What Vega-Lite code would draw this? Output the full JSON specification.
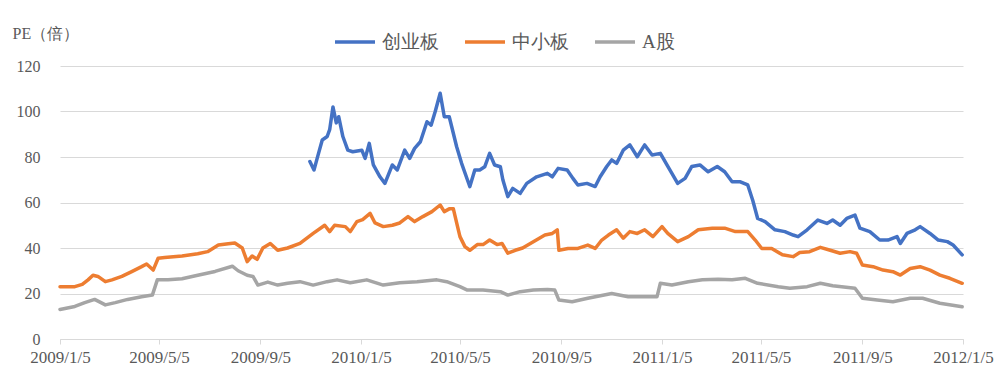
{
  "$schema": "https://vega.github.io/schema/vega-lite/v6.json",
  "width": 903,
  "height": 273,
  "autosize": {"type": "none"},
  "padding": {"left": 60, "top": 66, "right": 37, "bottom": 42},
  "background": "white",
  "config": {
    "view": {"stroke": null},
    "axis": {"labelFont": "Times New Roman", "titleFont": "Times New Roman"},
    "legend": {"labelFont": "Times New Roman"}
  },
  "data": {"values": [
    {"d":"2009-01-05","s":"中小板","v":23},{"d":"2009-01-23","s":"中小板","v":23},{"d":"2009-02-01","s":"中小板","v":24},{"d":"2009-02-08","s":"中小板","v":26},{"d":"2009-02-14","s":"中小板","v":28},{"d":"2009-02-20","s":"中小板","v":27.5},{"d":"2009-03-01","s":"中小板","v":25.2},{"d":"2009-03-09","s":"中小板","v":26},{"d":"2009-03-21","s":"中小板","v":27.5},{"d":"2009-04-02","s":"中小板","v":29.6},{"d":"2009-04-14","s":"中小板","v":31.8},{"d":"2009-04-20","s":"中小板","v":33},{"d":"2009-04-28","s":"中小板","v":30.3},{"d":"2009-05-04","s":"中小板","v":35.5},{"d":"2009-05-12","s":"中小板","v":35.8},{"d":"2009-06-02","s":"中小板","v":36.5},{"d":"2009-06-21","s":"中小板","v":37.5},{"d":"2009-07-03","s":"中小板","v":38.4},{"d":"2009-07-16","s":"中小板","v":41.3},{"d":"2009-07-28","s":"中小板","v":41.9},{"d":"2009-08-05","s":"中小板","v":42.2},{"d":"2009-08-14","s":"中小板","v":40},{"d":"2009-08-20","s":"中小板","v":34},{"d":"2009-08-26","s":"中小板","v":36.5},{"d":"2009-09-01","s":"中小板","v":35},{"d":"2009-09-08","s":"中小板","v":40},{"d":"2009-09-17","s":"中小板","v":42},{"d":"2009-09-26","s":"中小板","v":39},{"d":"2009-10-08","s":"中小板","v":40},{"d":"2009-10-23","s":"中小板","v":42},{"d":"2009-11-08","s":"中小板","v":46.4},{"d":"2009-11-22","s":"中小板","v":50},{"d":"2009-11-28","s":"中小板","v":47.2},{"d":"2009-12-04","s":"中小板","v":50},{"d":"2009-12-17","s":"中小板","v":49.4},{"d":"2009-12-23","s":"中小板","v":47.2},{"d":"2009-12-31","s":"中小板","v":51.6},{"d":"2010-01-07","s":"中小板","v":52.5},{"d":"2010-01-16","s":"中小板","v":55.2},{"d":"2010-01-22","s":"中小板","v":51},{"d":"2010-02-01","s":"中小板","v":49.4},{"d":"2010-02-12","s":"中小板","v":50},{"d":"2010-02-21","s":"中小板","v":51},{"d":"2010-03-03","s":"中小板","v":53.8},{"d":"2010-03-11","s":"中小板","v":51.6},{"d":"2010-03-21","s":"中小板","v":53.8},{"d":"2010-04-01","s":"中小板","v":56},{"d":"2010-04-11","s":"中小板","v":58.9},{"d":"2010-04-16","s":"中小板","v":56},{"d":"2010-04-22","s":"中小板","v":57.2},{"d":"2010-04-27","s":"中小板","v":57.2},{"d":"2010-05-01","s":"中小板","v":51},{"d":"2010-05-05","s":"中小板","v":45},{"d":"2010-05-11","s":"中小板","v":40.6},{"d":"2010-05-17","s":"中小板","v":39},{"d":"2010-05-26","s":"中小板","v":41.5},{"d":"2010-06-02","s":"中小板","v":41.5},{"d":"2010-06-10","s":"中小板","v":43.5},{"d":"2010-06-19","s":"中小板","v":41.5},{"d":"2010-06-25","s":"中小板","v":42},{"d":"2010-07-02","s":"中小板","v":37.7},{"d":"2010-07-11","s":"中小板","v":39},{"d":"2010-07-20","s":"中小板","v":40},{"d":"2010-08-02","s":"中小板","v":42.8},{"d":"2010-08-16","s":"中小板","v":45.7},{"d":"2010-08-25","s":"中小板","v":46.4},{"d":"2010-08-31","s":"中小板","v":48},{"d":"2010-09-02","s":"中小板","v":39},{"d":"2010-09-13","s":"中小板","v":39.8},{"d":"2010-09-25","s":"中小板","v":39.8},{"d":"2010-10-07","s":"中小板","v":41.3},{"d":"2010-10-16","s":"中小板","v":39.8},{"d":"2010-10-24","s":"中小板","v":43.5},{"d":"2010-11-01","s":"中小板","v":45.7},{"d":"2010-11-11","s":"中小板","v":48},{"d":"2010-11-19","s":"中小板","v":44.3},{"d":"2010-11-27","s":"中小板","v":47.2},{"d":"2010-12-06","s":"中小板","v":46.4},{"d":"2010-12-15","s":"中小板","v":48},{"d":"2010-12-25","s":"中小板","v":45},{"d":"2011-01-05","s":"中小板","v":49.4},{"d":"2011-01-12","s":"中小板","v":46.4},{"d":"2011-01-24","s":"中小板","v":42.8},{"d":"2011-02-06","s":"中小板","v":45},{"d":"2011-02-18","s":"中小板","v":48},{"d":"2011-03-07","s":"中小板","v":48.7},{"d":"2011-03-22","s":"中小板","v":48.7},{"d":"2011-04-04","s":"中小板","v":47.2},{"d":"2011-04-19","s":"中小板","v":47.2},{"d":"2011-04-28","s":"中小板","v":43.5},{"d":"2011-05-06","s":"中小板","v":39.8},{"d":"2011-05-18","s":"中小板","v":39.8},{"d":"2011-05-31","s":"中小板","v":37},{"d":"2011-06-13","s":"中小板","v":36.2},{"d":"2011-06-21","s":"中小板","v":38},{"d":"2011-07-03","s":"中小板","v":38.4},{"d":"2011-07-16","s":"中小板","v":40.3},{"d":"2011-07-28","s":"中小板","v":39},{"d":"2011-08-09","s":"中小板","v":37.7},{"d":"2011-08-21","s":"中小板","v":38.4},{"d":"2011-08-29","s":"中小板","v":37.7},{"d":"2011-09-05","s":"中小板","v":32.5},{"d":"2011-09-18","s":"中小板","v":31.8},{"d":"2011-09-30","s":"中小板","v":30.3},{"d":"2011-10-12","s":"中小板","v":29.6},{"d":"2011-10-21","s":"中小板","v":28.1},{"d":"2011-11-02","s":"中小板","v":31},{"d":"2011-11-14","s":"中小板","v":31.8},{"d":"2011-11-26","s":"中小板","v":30.3},{"d":"2011-12-08","s":"中小板","v":28.1},{"d":"2011-12-20","s":"中小板","v":26.7},{"d":"2012-01-04","s":"中小板","v":24.5},

    {"d":"2009-01-05","s":"A股","v":13},{"d":"2009-01-23","s":"A股","v":14.3},{"d":"2009-02-04","s":"A股","v":16},{"d":"2009-02-16","s":"A股","v":17.4},{"d":"2009-03-01","s":"A股","v":15},{"d":"2009-03-13","s":"A股","v":16},{"d":"2009-03-28","s":"A股","v":17.4},{"d":"2009-04-14","s":"A股","v":18.6},{"d":"2009-04-27","s":"A股","v":19.3},{"d":"2009-05-03","s":"A股","v":26},{"d":"2009-05-16","s":"A股","v":26},{"d":"2009-06-02","s":"A股","v":26.5},{"d":"2009-06-21","s":"A股","v":28},{"d":"2009-07-12","s":"A股","v":29.7},{"d":"2009-08-02","s":"A股","v":32},{"d":"2009-08-09","s":"A股","v":30},{"d":"2009-08-20","s":"A股","v":28},{"d":"2009-08-27","s":"A股","v":27.5},{"d":"2009-09-02","s":"A股","v":23.7},{"d":"2009-09-14","s":"A股","v":25},{"d":"2009-09-26","s":"A股","v":23.7},{"d":"2009-10-08","s":"A股","v":24.5},{"d":"2009-10-23","s":"A股","v":25.2},{"d":"2009-11-08","s":"A股","v":23.7},{"d":"2009-11-25","s":"A股","v":25.2},{"d":"2009-12-07","s":"A股","v":26},{"d":"2009-12-23","s":"A股","v":24.7},{"d":"2010-01-12","s":"A股","v":26},{"d":"2010-02-01","s":"A股","v":23.7},{"d":"2010-02-21","s":"A股","v":24.7},{"d":"2010-03-14","s":"A股","v":25.2},{"d":"2010-04-07","s":"A股","v":26},{"d":"2010-04-19","s":"A股","v":25.2},{"d":"2010-05-05","s":"A股","v":23},{"d":"2010-05-14","s":"A股","v":21.5},{"d":"2010-06-02","s":"A股","v":21.5},{"d":"2010-06-23","s":"A股","v":20.8},{"d":"2010-07-02","s":"A股","v":19.3},{"d":"2010-07-17","s":"A股","v":20.8},{"d":"2010-08-02","s":"A股","v":21.5},{"d":"2010-08-19","s":"A股","v":21.8},{"d":"2010-08-28","s":"A股","v":21.5},{"d":"2010-09-02","s":"A股","v":17.1},{"d":"2010-09-18","s":"A股","v":16.4},{"d":"2010-10-07","s":"A股","v":17.9},{"d":"2010-11-05","s":"A股","v":20},{"d":"2010-11-25","s":"A股","v":18.6},{"d":"2010-12-15","s":"A股","v":18.6},{"d":"2010-12-30","s":"A股","v":18.6},{"d":"2011-01-03","s":"A股","v":24.5},{"d":"2011-01-17","s":"A股","v":23.7},{"d":"2011-02-06","s":"A股","v":25.2},{"d":"2011-02-23","s":"A股","v":26},{"d":"2011-03-14","s":"A股","v":26.3},{"d":"2011-03-31","s":"A股","v":26},{"d":"2011-04-16","s":"A股","v":26.7},{"d":"2011-05-01","s":"A股","v":24.5},{"d":"2011-05-26","s":"A股","v":23},{"d":"2011-06-09","s":"A股","v":22.3},{"d":"2011-06-30","s":"A股","v":23},{"d":"2011-07-16","s":"A股","v":24.5},{"d":"2011-07-31","s":"A股","v":23.4},{"d":"2011-08-27","s":"A股","v":22.3},{"d":"2011-09-05","s":"A股","v":17.9},{"d":"2011-09-23","s":"A股","v":17.1},{"d":"2011-10-12","s":"A股","v":16.4},{"d":"2011-11-02","s":"A股","v":17.9},{"d":"2011-11-17","s":"A股","v":17.9},{"d":"2011-12-08","s":"A股","v":15.7},{"d":"2012-01-04","s":"A股","v":14.2},

    {"d":"2009-11-04","s":"创业板","v":78},{"d":"2009-11-09","s":"创业板","v":74.3},{"d":"2009-11-13","s":"创业板","v":79.6},{"d":"2009-11-19","s":"创业板","v":87.5},{"d":"2009-11-25","s":"创业板","v":89},{"d":"2009-11-28","s":"创业板","v":92},{"d":"2009-12-02","s":"创业板","v":102},{"d":"2009-12-06","s":"创业板","v":95},{"d":"2009-12-09","s":"创业板","v":97.7},{"d":"2009-12-14","s":"创业板","v":89},{"d":"2009-12-20","s":"创业板","v":83},{"d":"2009-12-26","s":"创业板","v":82.3},{"d":"2010-01-06","s":"创业板","v":83},{"d":"2010-01-10","s":"创业板","v":79.4},{"d":"2010-01-15","s":"创业板","v":86},{"d":"2010-01-20","s":"创业板","v":76.5},{"d":"2010-01-28","s":"创业板","v":71.3},{"d":"2010-02-03","s":"创业板","v":68.4},{"d":"2010-02-12","s":"创业板","v":76.5},{"d":"2010-02-18","s":"创业板","v":74.3},{"d":"2010-02-27","s":"创业板","v":83},{"d":"2010-03-05","s":"创业板","v":79.4},{"d":"2010-03-11","s":"创业板","v":83.8},{"d":"2010-03-18","s":"创业板","v":86.7},{"d":"2010-03-26","s":"创业板","v":95.5},{"d":"2010-03-31","s":"创业板","v":94},{"d":"2010-04-05","s":"创业板","v":100},{"d":"2010-04-11","s":"创业板","v":108},{"d":"2010-04-16","s":"创业板","v":97.7},{"d":"2010-04-22","s":"创业板","v":97.7},{"d":"2010-04-25","s":"创业板","v":93.3},{"d":"2010-05-01","s":"创业板","v":84.5},{"d":"2010-05-07","s":"创业板","v":77.2},{"d":"2010-05-14","s":"创业板","v":70},{"d":"2010-05-17","s":"创业板","v":67},{"d":"2010-05-23","s":"创业板","v":74.3},{"d":"2010-05-29","s":"创业板","v":74.3},{"d":"2010-06-04","s":"创业板","v":75.7},{"d":"2010-06-10","s":"创业板","v":81.6},{"d":"2010-06-16","s":"创业板","v":76.5},{"d":"2010-06-23","s":"创业板","v":75.7},{"d":"2010-06-26","s":"创业板","v":70},{"d":"2010-07-02","s":"创业板","v":62.6},{"d":"2010-07-08","s":"创业板","v":66.2},{"d":"2010-07-17","s":"创业板","v":64},{"d":"2010-07-25","s":"创业板","v":68.4},{"d":"2010-08-06","s":"创业板","v":71.3},{"d":"2010-08-19","s":"创业板","v":72.8},{"d":"2010-08-25","s":"创业板","v":71.3},{"d":"2010-09-01","s":"创业板","v":75},{"d":"2010-09-12","s":"创业板","v":74.3},{"d":"2010-09-19","s":"创业板","v":70.6},{"d":"2010-09-25","s":"创业板","v":67.7},{"d":"2010-10-06","s":"创业板","v":68.4},{"d":"2010-10-16","s":"创业板","v":67},{"d":"2010-10-22","s":"创业板","v":71.3},{"d":"2010-10-30","s":"创业板","v":75.8},{"d":"2010-11-05","s":"创业板","v":78.7},{"d":"2010-11-11","s":"创业板","v":77.2},{"d":"2010-11-19","s":"创业板","v":83},{"d":"2010-11-27","s":"创业板","v":85.3},{"d":"2010-12-06","s":"创业板","v":80.1},{"d":"2010-12-15","s":"创业板","v":85.3},{"d":"2010-12-24","s":"创业板","v":80.9},{"d":"2011-01-03","s":"创业板","v":81.6},{"d":"2011-01-11","s":"创业板","v":76.5},{"d":"2011-01-17","s":"创业板","v":72.8},{"d":"2011-01-24","s":"创业板","v":68.4},{"d":"2011-02-02","s":"创业板","v":70.6},{"d":"2011-02-10","s":"创业板","v":75.8},{"d":"2011-02-20","s":"创业板","v":76.5},{"d":"2011-03-02","s":"创业板","v":73.5},{"d":"2011-03-13","s":"创业板","v":75.8},{"d":"2011-03-22","s":"创业板","v":73.5},{"d":"2011-03-31","s":"创业板","v":69.1},{"d":"2011-04-10","s":"创业板","v":69.1},{"d":"2011-04-19","s":"创业板","v":67.7},{"d":"2011-04-25","s":"创业板","v":61},{"d":"2011-05-01","s":"创业板","v":53},{"d":"2011-05-10","s":"创业板","v":51.6},{"d":"2011-05-22","s":"创业板","v":48},{"d":"2011-06-03","s":"创业板","v":47.2},{"d":"2011-06-13","s":"创业板","v":45.7},{"d":"2011-06-19","s":"创业板","v":45},{"d":"2011-06-30","s":"创业板","v":48},{"d":"2011-07-13","s":"创业板","v":52.3},{"d":"2011-07-24","s":"创业板","v":50.8},{"d":"2011-07-31","s":"创业板","v":52.3},{"d":"2011-08-09","s":"创业板","v":50},{"d":"2011-08-17","s":"创业板","v":53},{"d":"2011-08-27","s":"创业板","v":54.5},{"d":"2011-09-02","s":"创业板","v":48.7},{"d":"2011-09-14","s":"创业板","v":47.2},{"d":"2011-09-26","s":"创业板","v":43.5},{"d":"2011-10-06","s":"创业板","v":43.5},{"d":"2011-10-17","s":"创业板","v":45},{"d":"2011-10-21","s":"创业板","v":42},{"d":"2011-10-29","s":"创业板","v":46.4},{"d":"2011-11-08","s":"创业板","v":48},{"d":"2011-11-14","s":"创业板","v":49.4},{"d":"2011-11-26","s":"创业板","v":46.4},{"d":"2011-12-06","s":"创业板","v":43.5},{"d":"2011-12-17","s":"创业板","v":42.8},{"d":"2011-12-24","s":"创业板","v":41.3},{"d":"2012-01-04","s":"创业板","v":37}
  ]},
  "mark": {"type": "line", "strokeWidth": 3.5, "strokeJoin": "round", "strokeCap": "round", "clip": false},
  "encoding": {
    "x": {
      "field": "d", "type": "temporal",
      "scale": {"type": "utc", "domain": [{"year": 2009, "month": 1, "date": 5, "utc": true}, {"year": 2012, "month": 1, "date": 5, "utc": true}]},
      "axis": {
        "title": null,
        "format": "%Y/%-m/%-d",
        "values": [
          {"year": 2009, "month": 1, "date": 5, "utc": true},
          {"year": 2009, "month": 5, "date": 5, "utc": true},
          {"year": 2009, "month": 9, "date": 5, "utc": true},
          {"year": 2010, "month": 1, "date": 5, "utc": true},
          {"year": 2010, "month": 5, "date": 5, "utc": true},
          {"year": 2010, "month": 9, "date": 5, "utc": true},
          {"year": 2011, "month": 1, "date": 5, "utc": true},
          {"year": 2011, "month": 5, "date": 5, "utc": true},
          {"year": 2011, "month": 9, "date": 5, "utc": true},
          {"year": 2012, "month": 1, "date": 5, "utc": true}
        ],
        "grid": false,
        "domainColor": "#d9d9d9",
        "domainWidth": 1,
        "tickColor": "#d9d9d9",
        "tickSize": 5,
        "labelFont": "Times New Roman",
        "labelColor": "#595959",
        "labelFontSize": 17,
        "labelPadding": 5,
        "labelFlush": false,
        "labelOverlap": false
      }
    },
    "y": {
      "field": "v", "type": "quantitative",
      "scale": {"domain": [0, 120], "nice": false, "zero": true},
      "axis": {
        "title": "PE（倍）",
        "titleFont": "Times New Roman",
        "titleAngle": 0,
        "titleX": -48,
        "titleY": -33,
        "titleAlign": "left",
        "titleBaseline": "middle",
        "titleFontSize": 16,
        "titleFontWeight": "normal",
        "titleColor": "#595959",
        "values": [0, 20, 40, 60, 80, 100, 120],
        "domain": false,
        "ticks": false,
        "tickSize": 0,
        "labelFont": "Times New Roman",
        "labelColor": "#595959",
        "labelPadding": 20,
        "labelFontSize": 16,
        "gridColor": "#d9d9d9",
        "gridWidth": 1
      }
    },
    "color": {
      "field": "s", "type": "nominal",
      "scale": {"domain": ["创业板", "中小板", "A股"], "range": ["#4472C4", "#ED7D31", "#A5A5A5"]},
      "legend": {
        "title": null,
        "orient": "none",
        "legendX": 273,
        "legendY": -46,
        "direction": "horizontal",
        "symbolType": "stroke",
        "symbolSize": 1600,
        "symbolStrokeWidth": 3.5,
        "labelFontSize": 19,
        "labelColor": "#595959",
        "labelFont": "Times New Roman",
        "labelOffset": 5,
        "columnPadding": 19,
        "padding": 0
      }
    }
  }
}
